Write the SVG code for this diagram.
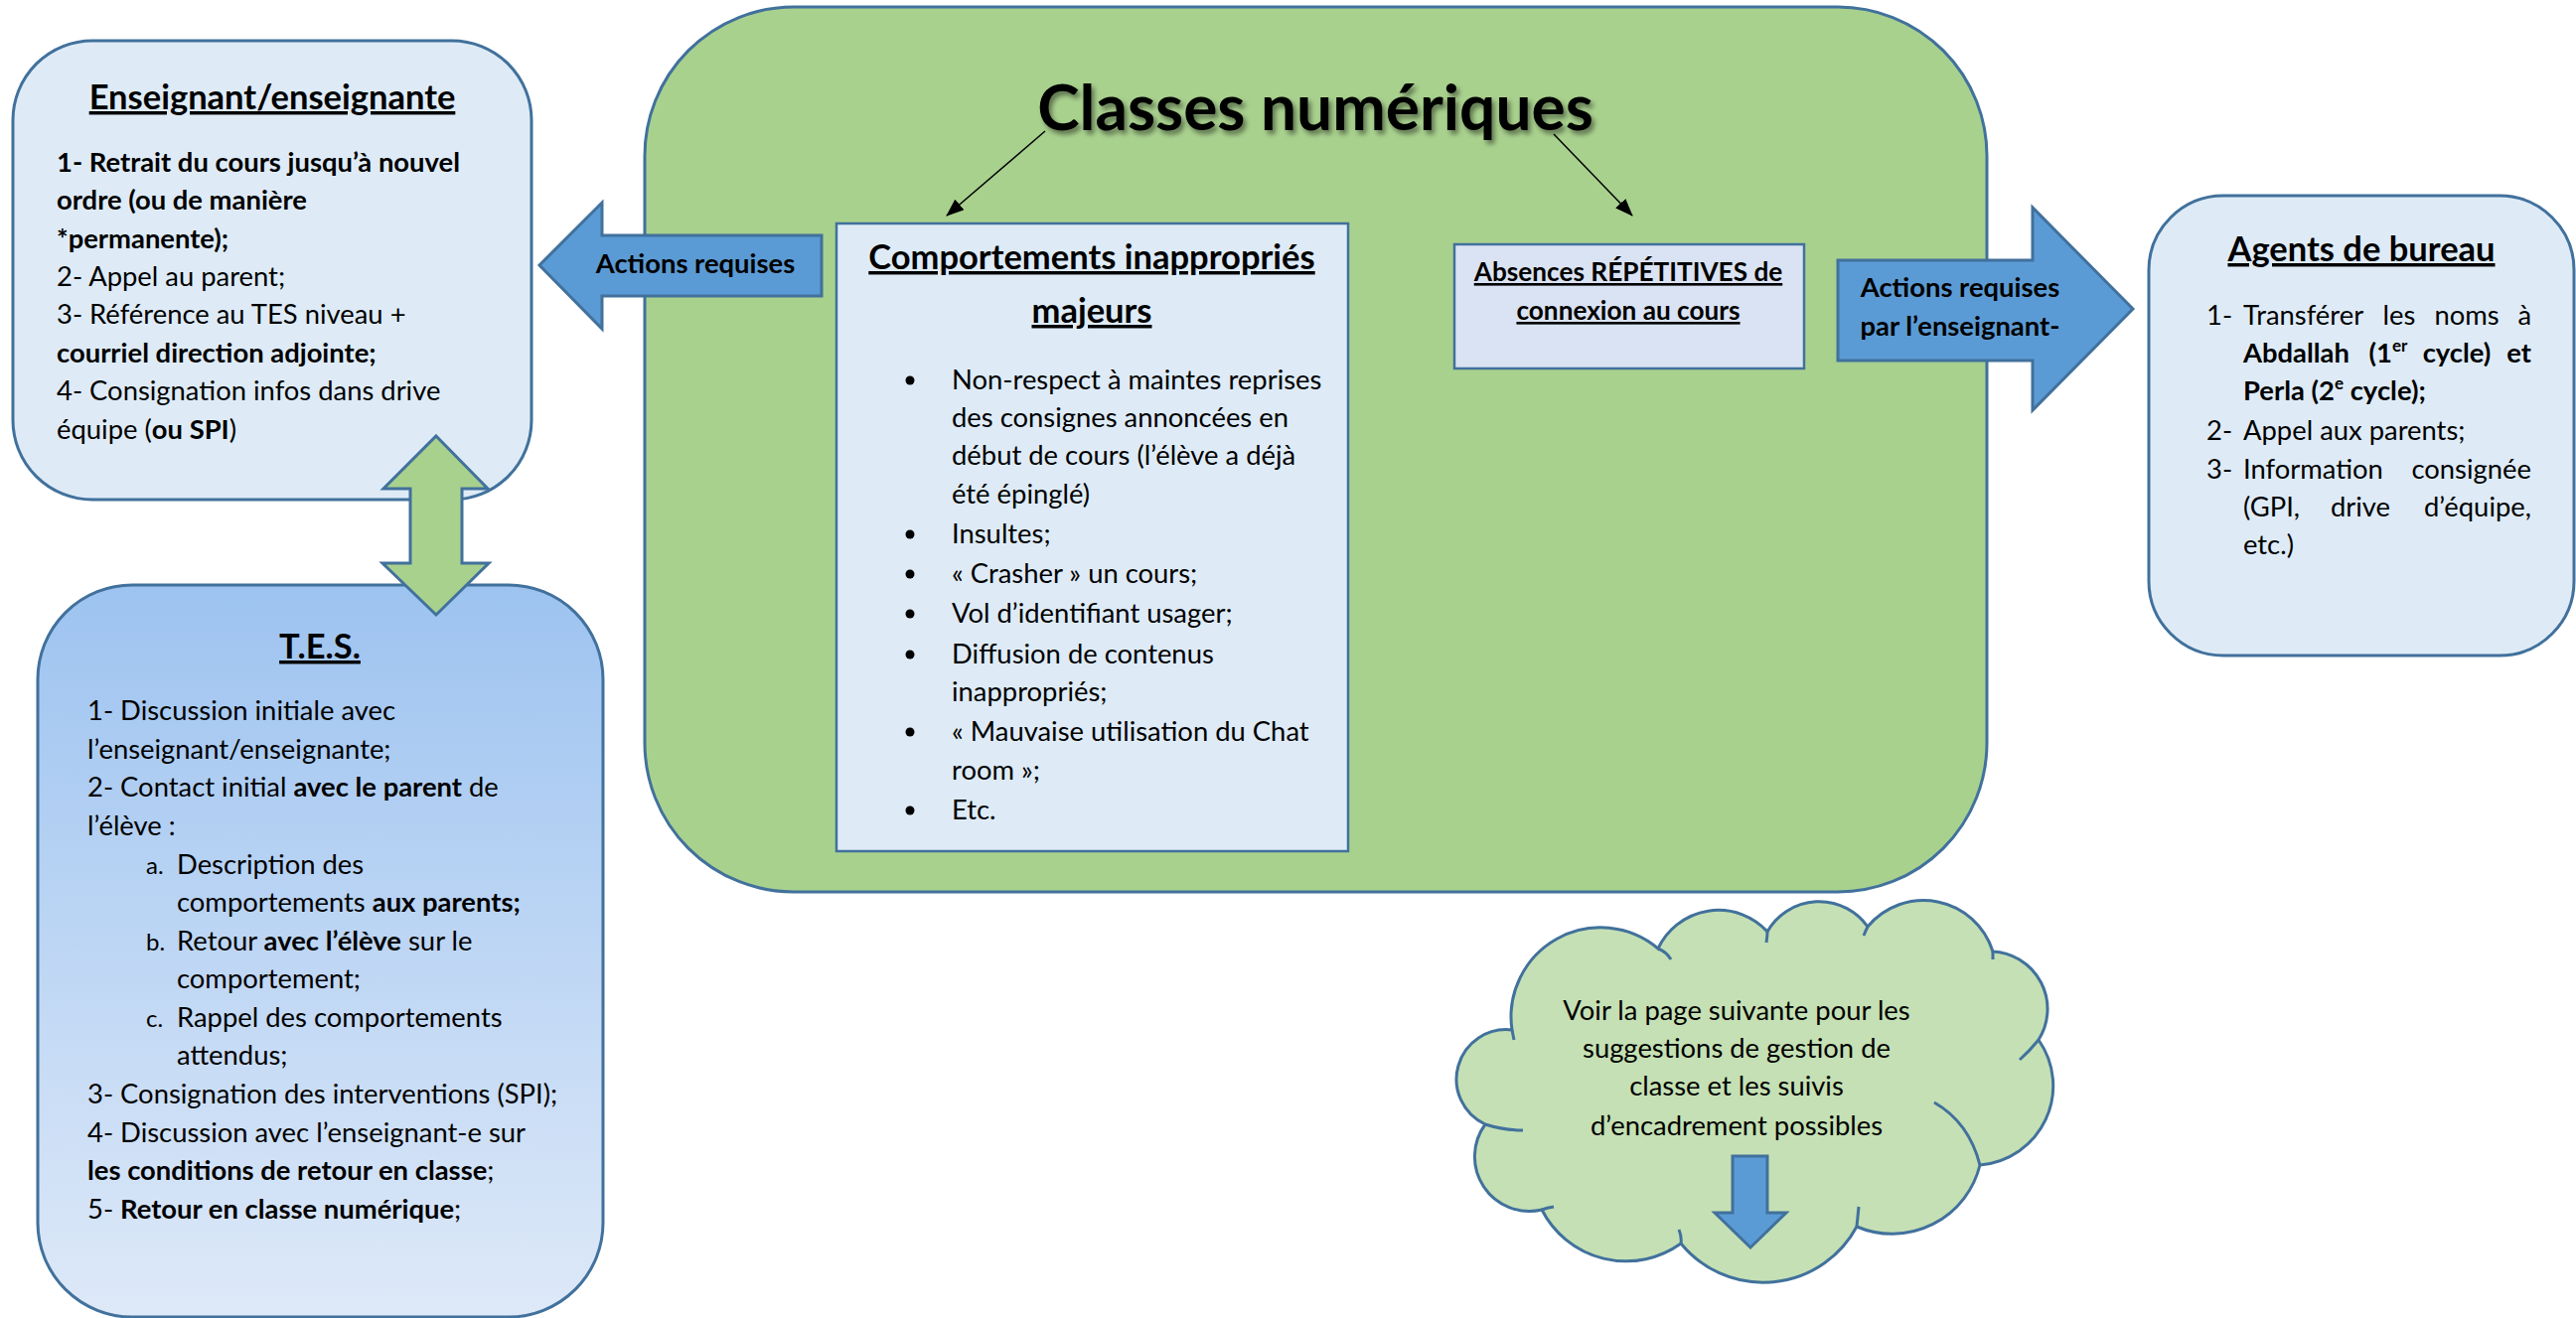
<svg xmlns="http://www.w3.org/2000/svg" width="2593" height="1327" viewBox="0 0 2593 1327">
<style>
.t{font-family:Lato,"Liberation Sans",sans-serif;font-size:27.4px;fill:#000}
.b{font-weight:700}
.s{font-size:24px}
.h{font-family:Lato,"Liberation Sans",sans-serif;font-weight:700;font-size:34.5px;text-decoration:underline;fill:#000}
.u{text-decoration:underline}
.box{fill:#DEEBF7;stroke:#41719C;stroke-width:3}
.blue{fill:#5B9BD5;stroke:#41719C;stroke-width:3;stroke-linejoin:miter}
.green{fill:#A9D18E;stroke:#41719C;stroke-width:3}
.tail{fill:none;stroke:#41719C;stroke-width:3}
.c{text-anchor:middle}
.e{text-anchor:end}
</style>
<defs>
<linearGradient id="tesg" x1="0" y1="0" x2="0" y2="1">
<stop offset="0" stop-color="#9DC3F0"/>
<stop offset="1" stop-color="#DEE9F8"/>
</linearGradient>
<filter id="sh" x="-10%" y="-20%" width="120%" height="150%">
<feDropShadow dx="3" dy="4" stdDeviation="2.5" flood-color="#000" flood-opacity="0.45"/>
</filter>
<marker id="ah" markerWidth="18" markerHeight="14" refX="17" refY="7" orient="auto" markerUnits="userSpaceOnUse">
<path d="M0,0 L18,7 L0,14 Z" fill="#000"/>
</marker>
</defs>

<g id="classes-numeriques">
<rect class="green" x="649" y="7" width="1351" height="891" rx="150" ry="150"/>
<text class="t b c" x="1324" y="131" style="font-size:64px" filter="url(#sh)">Classes numériques</text>
</g>

<g id="comportements">
<rect x="842" y="225" width="515" height="632" fill="#DEEBF7" stroke="#41719C" stroke-width="2.5"/>
<text class="h c" x="1099" y="271">Comportements inappropriés</text>
<text class="h c" x="1099" y="325">majeurs</text>
<g fill="#000">
<circle cx="916" cy="383" r="4.5"/>
<circle cx="916" cy="538" r="4.5"/>
<circle cx="916" cy="578" r="4.5"/>
<circle cx="916" cy="618" r="4.5"/>
<circle cx="916" cy="659" r="4.5"/>
<circle cx="916" cy="737" r="4.5"/>
<circle cx="916" cy="816" r="4.5"/>
</g>
<text class="t" x="958" y="392">Non-respect à maintes reprises</text>
<text class="t" x="958" y="430">des consignes annoncées en</text>
<text class="t" x="958" y="468">début de cours (l’élève a déjà</text>
<text class="t" x="958" y="507">été épinglé)</text>
<text class="t" x="958" y="547">Insultes;</text>
<text class="t" x="958" y="587">« Crasher » un cours;</text>
<text class="t" x="958" y="627">Vol d’identifiant usager;</text>
<text class="t" x="958" y="668">Diffusion de contenus</text>
<text class="t" x="958" y="706">inappropriés;</text>
<text class="t" x="958" y="746">« Mauvaise utilisation du Chat</text>
<text class="t" x="958" y="785">room »;</text>
<text class="t" x="958" y="825">Etc.</text>
</g>

<g id="absences">
<rect x="1464" y="246" width="352" height="125" fill="#DAE3F3" stroke="#41719C" stroke-width="2.5"/>
<text class="t b u c" x="1639" y="283" style="font-size:26.2px">Absences RÉPÉTITIVES de</text>
<text class="t b u c" x="1639" y="322" style="font-size:26.2px">connexion au cours</text>
</g>

<g id="connectors">
<line x1="1052" y1="132" x2="953" y2="217" stroke="#000" stroke-width="1.5" marker-end="url(#ah)"/>
<line x1="1564" y1="135" x2="1643" y2="217" stroke="#000" stroke-width="1.5" marker-end="url(#ah)"/>
</g>

<g id="actions-requises-gauche">
<polygon class="blue" points="543,267 606,204 606,237 827,237 827,298 606,298 606,331"/>
<text class="t b c" x="700" y="275">Actions requises</text>
</g>

<g id="actions-requises-droite">
<polygon class="blue" points="1850,262 2046,262 2046,209 2147,311 2046,413 2046,363 1850,363"/>
<text class="t b c" x="1973" y="299">Actions requises</text>
<text class="t b c" x="1973" y="338">par l’enseignant-</text>
</g>

<g id="enseignant">
<rect class="box" x="13" y="41" width="522" height="462" rx="80" ry="80"/>
<text class="h c" x="274" y="110">Enseignant/enseignante</text>
<text class="t b" x="57" y="173">1- Retrait du cours jusqu’à nouvel</text>
<text class="t b" x="57" y="211">ordre (ou de manière</text>
<text class="t b" x="57" y="250">*permanente);</text>
<text class="t" x="57" y="288">2- Appel au parent;</text>
<text class="t" x="57" y="326">3- Référence au TES niveau +</text>
<text class="t b" x="57" y="365">courriel direction adjointe;</text>
<text class="t" x="57" y="403">4- Consignation infos dans drive</text>
<text class="t" x="57" y="442">équipe (<tspan class="b">ou SPI</tspan>)</text>
</g>

<g id="tes">
<rect x="38" y="589" width="569" height="737" rx="95" ry="95" fill="url(#tesg)" stroke="#41719C" stroke-width="3"/>
<text class="h c" x="322" y="663">T.E.S.</text>
<text class="t" x="88" y="725">1- Discussion initiale avec</text>
<text class="t" x="88" y="764">l’enseignant/enseignante;</text>
<text class="t" x="88" y="802">2- Contact initial <tspan class="b">avec le parent</tspan> de</text>
<text class="t" x="88" y="841">l’élève :</text>
<text class="t s" x="147" y="880">a.</text>
<text class="t" x="178" y="880">Description des</text>
<text class="t" x="178" y="918">comportements <tspan class="b">aux parents;</tspan></text>
<text class="t s" x="147" y="957">b.</text>
<text class="t" x="178" y="957">Retour <tspan class="b">avec l’élève</tspan> sur le</text>
<text class="t" x="178" y="995">comportement;</text>
<text class="t s" x="147" y="1034">c.</text>
<text class="t" x="178" y="1034">Rappel des comportements</text>
<text class="t" x="178" y="1072">attendus;</text>
<text class="t" x="88" y="1111">3- Consignation des interventions (SPI);</text>
<text class="t" x="88" y="1150">4- Discussion avec l’enseignant-e sur</text>
<text class="t" x="88" y="1188"><tspan class="b">les conditions de retour en classe</tspan>;</text>
<text class="t" x="88" y="1227">5- <tspan class="b">Retour en classe numérique</tspan>;</text>
</g>

<g id="double-fleche">
<polygon class="green" points="439,439 491,492 465,492 465,567 492,567 439,619 385,567 413,567 413,492 386,492"/>
</g>

<g id="agents">
<rect class="box" x="2163" y="197" width="428" height="463" rx="75" ry="75"/>
<text class="h c" x="2377" y="263">Agents de bureau</text>
<text class="t" x="2221" y="327">1-</text>
<text class="t" x="2258" y="327">Transférer</text>
<text class="t c" x="2415" y="327">les</text>
<text class="t c" x="2483" y="327">noms</text>
<text class="t e" x="2548" y="327">à</text>
<text class="t b" x="2258" y="365">Abdallah</text>
<text class="t b c" x="2404" y="365">(1<tspan style="font-size:17px" dy="-11">er</tspan></text>
<text class="t b c" x="2473" y="365">cycle)</text>
<text class="t b e" x="2548" y="365">et</text>
<text class="t b" x="2258" y="403">Perla (2<tspan style="font-size:17px" dy="-11">e</tspan><tspan dy="11"> cycle);</tspan></text>
<text class="t" x="2221" y="443">2-</text>
<text class="t" x="2258" y="443">Appel aux parents;</text>
<text class="t" x="2221" y="482">3-</text>
<text class="t" x="2258" y="482">Information</text>
<text class="t e" x="2548" y="482">consignée</text>
<text class="t" x="2258" y="520">(GPI,</text>
<text class="t c" x="2376" y="520">drive</text>
<text class="t e" x="2548" y="520">d’équipe,</text>
<text class="t" x="2258" y="558">etc.)</text>
</g>

<g id="nuage">
<path d="M1522 1037 A90 90 0 0 1 1669 955 A67 67 0 0 1 1779 938 A60 60 0 0 1 1880 933 A73 73 0 0 1 2006 958 A58 58 0 0 1 2052 1047 A80 80 0 0 1 1993 1173 A91 91 0 0 1 1869 1235 A107 107 0 0 1 1692 1252 A95 95 0 0 1 1552 1218 A55 55 0 0 1 1495 1132 A50 50 0 0 1 1522 1037 Z" fill="#C5E0B4" stroke="#41719C" stroke-width="3"/>
<path class="tail" d="M1669 955 Q1677 958 1682 966 M1779 938 Q1779 943 1778 949 M1880 933 Q1878 937 1876 942 M2006 958 Q2006 962 2006 966 M2052 1047 Q2043 1058 2033 1067 M1947 1110 Q1982 1130 1993 1173 M1869 1235 Q1870 1225 1871 1215 M1692 1252 Q1693 1245 1690 1238 M1552 1218 Q1557 1216 1564 1215 M1495 1132 Q1514 1138 1533 1138 M1522 1037 L1524 1047"/>
<text class="t c" x="1748" y="1027">Voir la page suivante pour les</text>
<text class="t c" x="1748" y="1065">suggestions de gestion de</text>
<text class="t c" x="1748" y="1103">classe et les suivis</text>
<text class="t c" x="1748" y="1143">d’encadrement possibles</text>
<polygon class="blue" points="1744,1164 1779,1164 1779,1221 1798,1221 1762,1256 1726,1221 1744,1221"/>
</g>
</svg>
